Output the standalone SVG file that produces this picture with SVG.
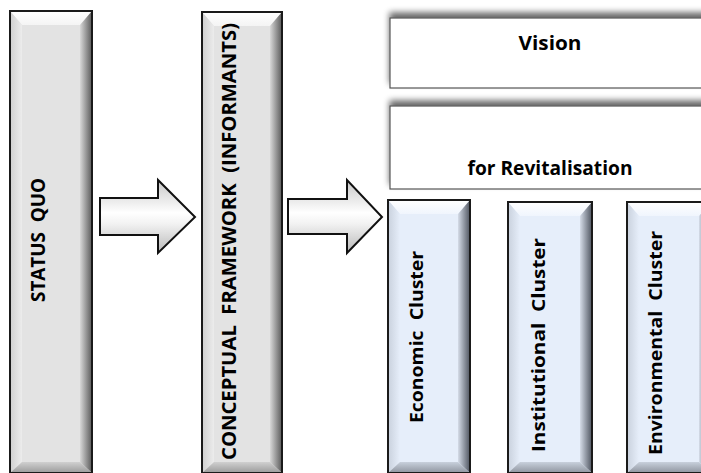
<svg xmlns="http://www.w3.org/2000/svg" width="701" height="473" viewBox="0 0 701 473">
<style>
.lbl{font-family:"Open Sans","Liberation Sans",Arial,sans-serif;font-weight:700;fill:#000;white-space:pre}
.edge{fill:none;stroke:#1a1a1a;stroke-width:2}
.wbox{fill:#fff;stroke:#555;stroke-width:1.2}
</style>
<defs>
<linearGradient id="gTop" x1="0" y1="0" x2="0" y2="1"><stop offset="0" stop-color="#ffffff"/><stop offset="1" stop-color="#f4f4f4"/></linearGradient>
<linearGradient id="gRight" x1="0" y1="0" x2="1" y2="0"><stop offset="0" stop-color="#d8d8d8"/><stop offset="1" stop-color="#5a5a5a"/></linearGradient>
<linearGradient id="gLeft" x1="0" y1="0" x2="1" y2="0"><stop offset="0" stop-color="#cfcfcf"/><stop offset="1" stop-color="#ececec"/></linearGradient>
<linearGradient id="gBot" x1="0" y1="0" x2="0" y2="1"><stop offset="0" stop-color="#d0d0d0"/><stop offset="1" stop-color="#9a9a9a"/></linearGradient>
<linearGradient id="bTop" x1="0" y1="0" x2="0" y2="1"><stop offset="0" stop-color="#ffffff"/><stop offset="1" stop-color="#f0f5fd"/></linearGradient>
<linearGradient id="bRight" x1="0" y1="0" x2="1" y2="0"><stop offset="0" stop-color="#d5dce8"/><stop offset="1" stop-color="#4f5560"/></linearGradient>
<linearGradient id="bLeft" x1="0" y1="0" x2="1" y2="0"><stop offset="0" stop-color="#c9d1dd"/><stop offset="1" stop-color="#e6eefa"/></linearGradient>
<linearGradient id="bBot" x1="0" y1="0" x2="0" y2="1"><stop offset="0" stop-color="#c8d0dc"/><stop offset="1" stop-color="#8e949e"/></linearGradient>
<linearGradient id="aFill" x1="0" y1="0" x2="0" y2="1"><stop offset="0" stop-color="#c8c8c8"/><stop offset="0.45" stop-color="#ffffff"/><stop offset="0.6" stop-color="#f2f2f2"/><stop offset="1" stop-color="#b8b8b8"/></linearGradient>
<filter id="sh" x="-5%" y="-30%" width="110%" height="140%"><feGaussianBlur in="SourceAlpha" stdDeviation="3"/><feOffset dy="-5" result="b"/><feComponentTransfer><feFuncA type="linear" slope="0.6"/></feComponentTransfer><feMerge><feMergeNode/><feMergeNode in="SourceGraphic"/></feMerge></filter>
</defs>

<g id="status-quo">
<rect x="10" y="11" width="82" height="462" fill="#e3e3e3"/>
<polygon points="10,11 92,11 80,25 22,25" fill="url(#gTop)"/>
<polygon points="10,11 22,25 22,462 10,473" fill="url(#gLeft)"/>
<polygon points="92,11 92,473 80,462 80,25" fill="url(#gRight)"/>
<polygon points="10,473 22,462 80,462 92,473" fill="url(#gBot)"/>
<rect x="10" y="11" width="82" height="462" class="edge"/>
<text class="lbl" font-size="20" transform="translate(45,240) rotate(-90)" text-anchor="middle" textLength="124" lengthAdjust="spacingAndGlyphs">STATUS  QUO</text>
</g>

<g id="conceptual-framework">
<rect x="202" y="12" width="80" height="461" fill="#e3e3e3"/>
<polygon points="202,12 282,12 270,26 214,26" fill="url(#gTop)"/>
<polygon points="202,12 214,26 214,462 202,473" fill="url(#gLeft)"/>
<polygon points="282,12 282,473 270,462 270,26" fill="url(#gRight)"/>
<polygon points="202,473 214,462 270,462 282,473" fill="url(#gBot)"/>
<rect x="202" y="12" width="80" height="461" class="edge"/>
<text class="lbl" font-size="20" transform="translate(236,241.5) rotate(-90)" text-anchor="middle" textLength="437" lengthAdjust="spacingAndGlyphs">CONCEPTUAL  FRAMEWORK  (INFORMANTS)</text>
</g>

<g id="vision">
<rect x="390" y="18" width="322" height="70" class="wbox" filter="url(#sh)"/>
<text class="lbl" font-size="19" x="550" y="50" text-anchor="middle" textLength="63" lengthAdjust="spacingAndGlyphs">Vision</text>
</g>

<g id="revitalisation">
<rect x="390" y="106" width="322" height="83" class="wbox" filter="url(#sh)"/>
<text class="lbl" font-size="19" x="550" y="175" text-anchor="middle" textLength="165" lengthAdjust="spacingAndGlyphs">for Revitalisation</text>
</g>

<g id="economic-cluster">
<rect x="388" y="200" width="82" height="273" fill="#e6eefa"/>
<polygon points="388,200 470,200 458,214 400,214" fill="url(#bTop)"/>
<polygon points="388,200 400,214 400,462 388,473" fill="url(#bLeft)"/>
<polygon points="470,200 470,473 458,462 458,214" fill="url(#bRight)"/>
<polygon points="388,473 400,462 458,462 470,473" fill="url(#bBot)"/>
<rect x="388" y="200" width="82" height="273" class="edge"/>
<text class="lbl" font-size="18" transform="translate(423,337) rotate(-90)" text-anchor="middle" textLength="172" lengthAdjust="spacingAndGlyphs">Economic  Cluster</text>
</g>

<g id="institutional-cluster">
<rect x="508" y="202" width="84" height="271" fill="#e6eefa"/>
<polygon points="508,202 592,202 580,216 520,216" fill="url(#bTop)"/>
<polygon points="508,202 520,216 520,462 508,473" fill="url(#bLeft)"/>
<polygon points="592,202 592,473 580,462 580,216" fill="url(#bRight)"/>
<polygon points="508,473 520,462 580,462 592,473" fill="url(#bBot)"/>
<rect x="508" y="202" width="84" height="271" class="edge"/>
<text class="lbl" font-size="18" transform="translate(545,345) rotate(-90)" text-anchor="middle" textLength="214" lengthAdjust="spacingAndGlyphs">Institutional  Cluster</text>
</g>

<g id="environmental-cluster">
<rect x="627" y="202" width="84" height="271" fill="#e6eefa"/>
<polygon points="627,202 711,202 699,216 639,216" fill="url(#bTop)"/>
<polygon points="627,202 639,216 639,462 627,473" fill="url(#bLeft)"/>
<polygon points="711,202 711,473 699,462 699,216" fill="url(#bRight)"/>
<polygon points="627,473 639,462 699,462 711,473" fill="url(#bBot)"/>
<rect x="627" y="202" width="84" height="271" class="edge"/>
<text class="lbl" font-size="18" transform="translate(662,343) rotate(-90)" text-anchor="middle" textLength="224" lengthAdjust="spacingAndGlyphs">Environmental  Cluster</text>
</g>

<g id="connectors">
<polygon points="100,198 158,198 158,180 195,217 158,253 158,235 100,235" fill="url(#aFill)" stroke="#111" stroke-width="2" stroke-linejoin="miter"/>
<polygon points="288,199 347,199 347,180 382,217 347,253 347,234 288,234" fill="url(#aFill)" stroke="#111" stroke-width="2" stroke-linejoin="miter"/>
</g>
</svg>
